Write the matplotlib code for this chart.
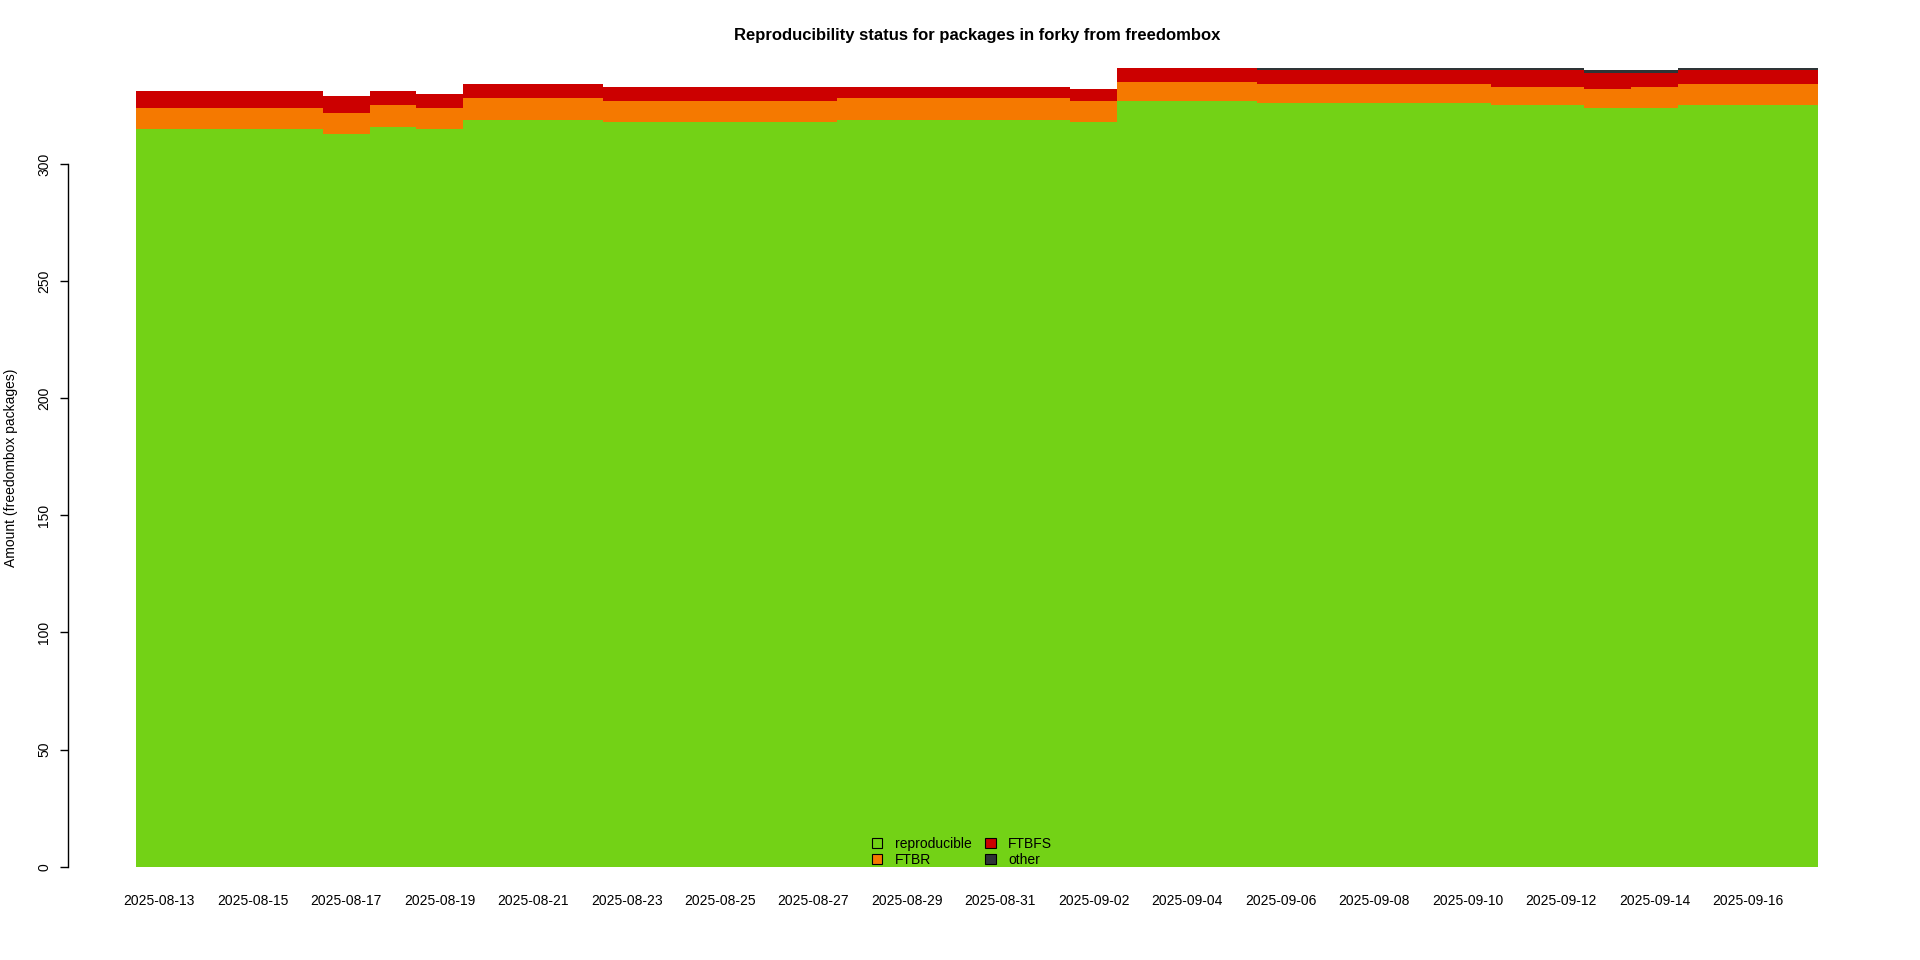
import matplotlib
matplotlib.use('Agg')
import matplotlib.pyplot as plt
from matplotlib.patches import Patch

plt.rcParams['font.family'] = ['Liberation Sans', 'DejaVu Sans']

# one bar per day
dates = ['2025-08-13', '2025-08-14', '2025-08-15', '2025-08-16', '2025-08-17', '2025-08-18',
         '2025-08-19', '2025-08-20', '2025-08-21', '2025-08-22', '2025-08-23', '2025-08-24',
         '2025-08-25', '2025-08-26', '2025-08-27', '2025-08-28', '2025-08-29', '2025-08-30',
         '2025-08-31', '2025-09-01', '2025-09-02', '2025-09-03', '2025-09-04', '2025-09-05',
         '2025-09-06', '2025-09-07', '2025-09-08', '2025-09-09', '2025-09-10', '2025-09-11',
         '2025-09-12', '2025-09-13', '2025-09-14', '2025-09-15', '2025-09-16', '2025-09-17']

reproducible = [315, 315, 315, 315, 313, 316, 315, 319, 319, 319, 318, 318,
                318, 318, 318, 319, 319, 319, 319, 319, 318, 327, 327, 327,
                326, 326, 326, 326, 326, 325, 325, 324, 324, 325, 325, 325]
ftbr = [9, 9, 9, 9, 9, 9, 9, 9, 9, 9, 9, 9,
        9, 9, 9, 9, 9, 9, 9, 9, 9, 8, 8, 8,
        8, 8, 8, 8, 8, 8, 8, 8, 9, 9, 9, 9]
ftbfs = [7, 7, 7, 7, 7, 6, 6, 6, 6, 6, 6, 6,
         6, 6, 6, 5, 5, 5, 5, 5, 5, 6, 6, 6,
         6, 6, 6, 6, 6, 7, 7, 7, 6, 6, 6, 6]
other = [0, 0, 0, 0, 0, 0, 0, 0, 0, 0, 0, 0,
         0, 0, 0, 0, 0, 0, 0, 0, 0, 0, 0, 0,
         1, 1, 1, 1, 1, 1, 1, 1, 1, 1, 1, 1]

labels = ['reproducible', 'FTBR', 'FTBFS', 'other']
colors = ['#73d216', '#f57900', '#cc0000', '#2e3436']

fig = plt.figure(figsize=(19.2, 9.6), dpi=100)
ax = fig.add_axes([136 / 1920, 1 - 866.7 / 960, (1818 - 136) / 1920, (866.7 - 68) / 960])

x = list(range(len(dates)))
bottom = [0] * len(dates)
for series, col in zip([reproducible, ftbr, ftbfs, other], colors):
    ax.bar(x, series, width=1.0, bottom=bottom, color=col, linewidth=0)
    bottom = [b + s for b, s in zip(bottom, series)]

ax.set_xlim(-0.5, len(dates) - 0.5)
ax.set_ylim(0, max(bottom))

# R-like axes
for s in ['top', 'right', 'bottom']:
    ax.spines[s].set_visible(False)
ax.spines['left'].set_position(('outward', 68 * 0.72))
ax.spines['left'].set_bounds(0, 300)
ax.spines['left'].set_linewidth(1)
ax.set_yticks([0, 50, 100, 150, 200, 250, 300])
ax.tick_params(axis='y', length=6, width=1, labelsize=10, pad=6)
for t in ax.get_yticklabels():
    t.set_rotation(90)
    t.set_va('center')

ax.set_xticks(x[::2])
ax.set_xticklabels(dates[::2])
ax.tick_params(axis='x', length=0, labelsize=10, pad=20)

ax.set_ylabel('Amount (freedombox packages)', fontsize=10, labelpad=14)
ax.set_title('Reproducibility status for packages in forky from freedombox',
             fontsize=12, fontweight='bold', pad=20)

handles = [Patch(facecolor=c, edgecolor='black', linewidth=0.8) for c in colors]
ax.legend(handles, labels, loc='lower center', bbox_to_anchor=(0.491, 0), ncol=2,
          frameon=False, fontsize=10,
          handlelength=0.75, handleheight=0.75, handletextpad=0.9, columnspacing=1.0,
          labelspacing=0.15, borderpad=0, borderaxespad=0.0)

fig.savefig('out.png', dpi=100)
